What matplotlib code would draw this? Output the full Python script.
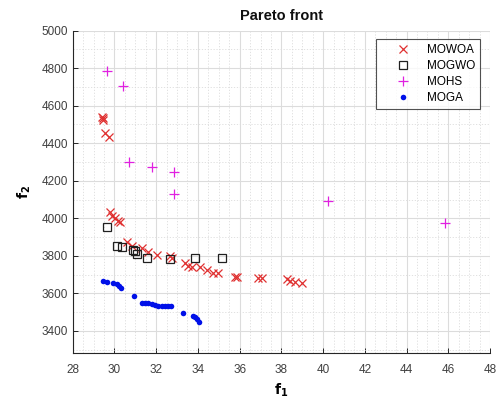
import matplotlib
matplotlib.use("Agg")
import matplotlib.pyplot as plt
from matplotlib.ticker import MultipleLocator

plt.rcParams['font.family'] = ['Liberation Sans', 'DejaVu Sans']

# MOWOA (red x)
mowoa_f1 = [29.39, 29.47, 29.43, 29.55, 29.74, 29.79, 29.87, 30.03, 30.18, 30.27,
            30.59, 30.83, 31.31, 31.62, 32.02, 32.66, 32.74, 33.38, 33.54, 33.70,
            34.10, 34.42, 34.74, 34.98, 35.78, 35.86, 36.89, 37.06, 38.25, 38.41,
            38.65, 38.97]
mowoa_f2 = [4542, 4524, 4532, 4453, 4432, 4035, 4012, 4000, 3987, 3980,
            3875, 3852, 3840, 3822, 3804, 3799, 3787, 3760, 3746, 3739,
            3739, 3724, 3710, 3710, 3689, 3686, 3684, 3684, 3675, 3667,
            3662, 3657]

# MOGWO (black squares)
mogwo_f1 = [29.63, 30.14, 30.35, 30.90, 31.00, 31.10, 31.58, 32.66, 33.87, 35.14]
mogwo_f2 = [3955, 3852, 3849, 3831, 3825, 3808, 3790, 3783, 3787, 3787]

# MOHS (magenta +)
mohs_f1 = [29.66, 30.40, 30.71, 31.78, 32.87, 32.87, 40.22, 45.84]
mohs_f2 = [4785, 4707, 4302, 4272, 4249, 4130, 4094, 3977]

# MOGA (blue dots)
moga_f1 = [29.44, 29.63, 29.95, 30.11, 30.23, 30.30, 30.94, 31.31, 31.47, 31.62,
           31.79, 31.94, 32.10, 32.26, 32.42, 32.58, 32.70, 33.27, 33.75, 33.86,
           33.97, 34.07]
moga_f2 = [3667, 3662, 3657, 3650, 3639, 3630, 3586, 3547, 3547, 3547,
           3543, 3537, 3533, 3533, 3533, 3533, 3533, 3497, 3479, 3472,
           3461, 3449]

fig = plt.figure(figsize=(4.97, 4.03), dpi=100)
ax = fig.add_axes([0.1463, 0.1233, 0.986 - 0.1463, 0.9238 - 0.1233])

ax.plot(mowoa_f1, mowoa_f2, 'x', color='#e03030', ms=6.3, mew=0.9, label='MOWOA')
ax.plot(mogwo_f1, mogwo_f2, 's', mfc='none', mec='#202020', ms=6.3, mew=0.9, label='MOGWO')
ax.plot(mohs_f1, mohs_f2, '+', color='#e020e0', ms=7.5, mew=0.9, label='MOHS')
ax.plot(moga_f1, moga_f2, 'o', color='#0010e8', ms=4, mew=0, label='MOGA')

ax.set_xlim(28, 48)
ax.set_ylim(3280, 5000)
ax.xaxis.set_major_locator(MultipleLocator(2))
ax.xaxis.set_minor_locator(MultipleLocator(0.5))
ax.yaxis.set_major_locator(MultipleLocator(200))
ax.yaxis.set_minor_locator(MultipleLocator(100))

ax.grid(which='major', color='#dcdcdc', lw=0.8, ls='-')
ax.grid(which='minor', color='#dcdcdc', lw=0.6, ls=(0, (1.5, 2)))
ax.set_axisbelow(True)

for s in ['top', 'right']:
    ax.spines[s].set_visible(False)
for s in ['left', 'bottom']:
    ax.spines[s].set_color('#262626')
    ax.spines[s].set_linewidth(0.8)

ax.tick_params(which='major', direction='in', length=3.5, width=0.7, colors='#262626',
               labelsize=8.5, labelcolor='#404040')
ax.tick_params(which='minor', length=0)
ax.tick_params(axis='x', pad=8)

ax.set_title('Pareto front', fontsize=10.5, fontweight='bold', color='#101010', pad=8)
ax.set_xlabel(r'$\mathbf{f_1}$', fontsize=10, labelpad=4)
ax.set_ylabel(r'$\mathbf{f_2}$', fontsize=10, labelpad=6)

leg = ax.legend(loc='upper right', bbox_to_anchor=(0.976, 0.974), borderaxespad=0,
                fontsize=8.5, frameon=True, fancybox=False, edgecolor='#262626',
                borderpad=0.4, handletextpad=0.05, labelspacing=0.35, handlelength=3.9)
leg.get_frame().set_linewidth(0.8)

fig.savefig('out.png', dpi=100)
